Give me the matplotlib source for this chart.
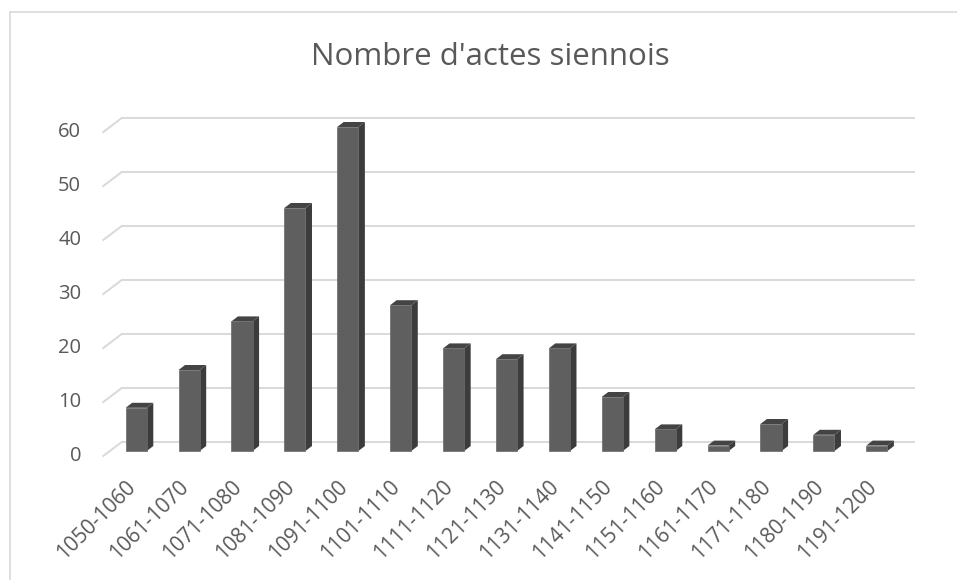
import matplotlib
matplotlib.use("Agg")
import matplotlib.pyplot as plt
from matplotlib.patches import Polygon
from matplotlib.lines import Line2D

# Data
periods = ["1050-1060", "1061-1070", "1071-1080", "1081-1090", "1091-1100",
           "1101-1110", "1111-1120", "1121-1130", "1131-1140", "1141-1150",
           "1151-1160", "1161-1170", "1171-1180", "1180-1190", "1191-1200"]
counts = [8, 15, 24, 45, 60, 27, 19, 17, 19, 10, 4, 1, 5, 3, 1]
yticks = [0, 10, 20, 30, 40, 50, 60]
title = "Nombre d'actes siennois"

plt.rcParams['font.family'] = ['Open Sans', 'DejaVu Sans']
text_col = '#595959'
grid_col = '#d9d9d9'

W, H = 957, 580
fig = plt.figure(figsize=(W / 100, H / 100), dpi=100)

# pixel mapping: category k -> 136.2 + 52.9 k ; value v -> 451 - 5.4 v (from top)
px_k, x0 = 52.9, 136.2
px_v, y0 = 5.4, 451
L, R, T, B = 100, 930, 100, 480
ax = fig.add_axes([L / W, (H - B) / H, (R - L) / W, (B - T) / H])
ax.set_xlim((L - x0) / px_k, (R - x0) / px_k)
ax.set_ylim((y0 - B) / px_v, (y0 - T) / px_v)
ax.axis('off')

# fake 3D depth offsets (data units)
back = (12 / px_k, 9 / px_v)
front = (-6.5 / px_k, -5 / px_v)
bdepth = (6.5 / px_k, 5 / px_v)
n = len(counts)

# back wall gridlines + diagonal side lines
for v in yticks:
    ax.plot([-0.5 + back[0], n - 0.5 + back[0]], [v + back[1], v + back[1]],
            color=grid_col, lw=1.4, zorder=1, solid_capstyle='butt')
    ax.plot([-0.5 + back[0], -0.5 + front[0]], [v + back[1], v + front[1]],
            color=grid_col, lw=1.4, zorder=1)
    ax.text(-1.04, v + front[1], str(v), ha='right', va='center',
            fontsize=14.5, color=text_col)

# bars
w = 0.4
ax.bar(range(n), counts, width=w, color='#5f5f5f', edgecolor='#686868',
       linewidth=0.5, zorder=3)
for k, v in enumerate(counts):
    xr = k + w / 2
    xl = k - w / 2
    side = [(xr, 0), (xr, v), (xr + bdepth[0], v + bdepth[1]), (xr + bdepth[0], bdepth[1])]
    top = [(xl, v), (xr, v), (xr + bdepth[0], v + bdepth[1]), (xl + bdepth[0], v + bdepth[1])]
    ax.add_patch(Polygon(side, closed=True, facecolor='#3c3c3c', edgecolor='none', zorder=2.5))
    ax.add_patch(Polygon(top, closed=True, facecolor='#444444', edgecolor='none', zorder=2.5))

# category labels
for k, lab in enumerate(periods):
    ax.text(k - 11 / px_k, (y0 - 476) / px_v, lab, rotation=45, rotation_mode='anchor',
            ha='right', va='top', fontsize=15, color=text_col)

fig.text(490 / W, (H - 65) / H, title, ha='center', va='baseline',
         fontsize=22.5, color=text_col)

# chart area border (cropped on right and bottom)
fig.add_artist(Line2D([10 / W, 1], [(H - 12) / H, (H - 12) / H], color=grid_col, lw=1.2))
fig.add_artist(Line2D([10 / W, 10 / W], [0, (H - 12) / H], color=grid_col, lw=1.2))

fig.savefig("out.png", dpi=100)
